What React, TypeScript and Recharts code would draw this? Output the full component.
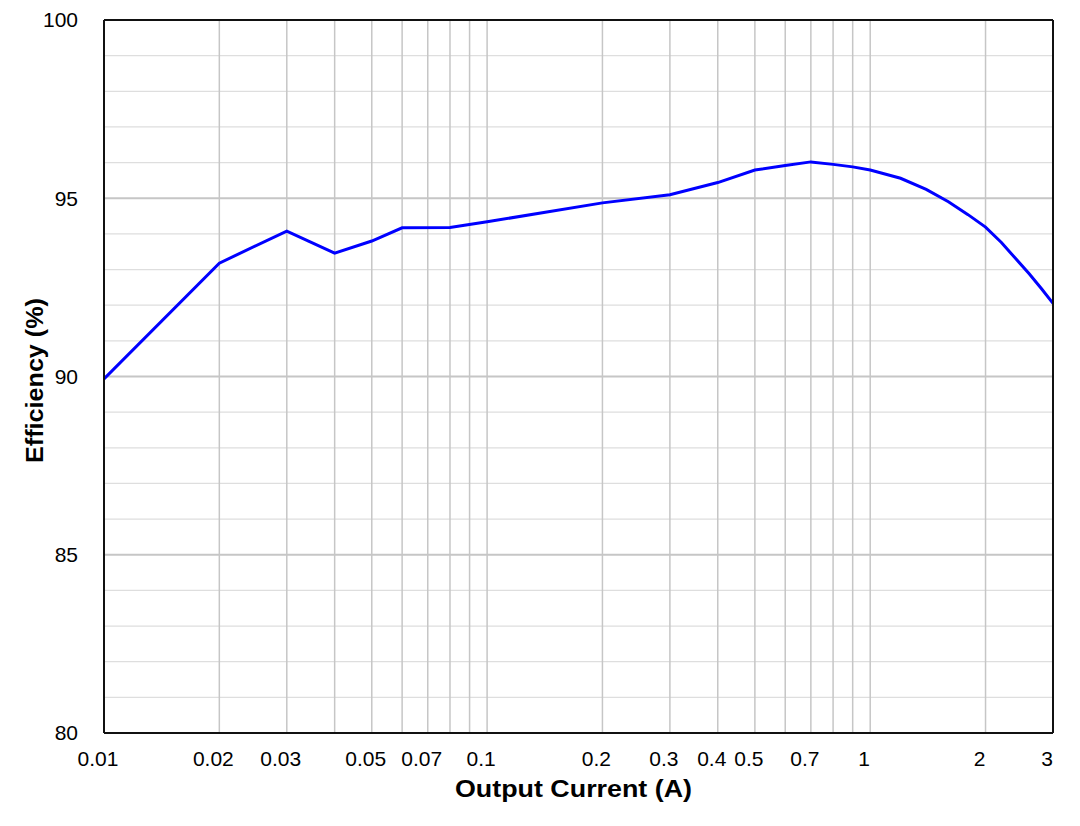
import { CartesianGrid, Line, LineChart, ReferenceLine, XAxis, YAxis } from "recharts";

// efficiency vs output current
const currentA = [
  0.01, 0.02, 0.03, 0.04, 0.05, 0.06, 0.08, 0.1, 0.2, 0.3, 0.4, 0.5, 0.6, 0.7, 0.8, 0.9, 1.0, 1.2, 1.4,
  1.6, 1.8, 2.0, 2.2, 2.4, 2.6, 2.8, 3.0,
];
const efficiencyPct = [
  89.93, 93.18, 94.08, 93.46, 93.8, 94.17, 94.18, 94.34, 94.87, 95.1, 95.44, 95.79, 95.92, 96.02, 95.95,
  95.88, 95.79, 95.56, 95.25, 94.9, 94.54, 94.19, 93.76, 93.3, 92.88, 92.46, 92.05,
];

const xTicks = [0.01, 0.02, 0.03, 0.05, 0.07, 0.1, 0.2, 0.3, 0.4, 0.5, 0.7, 1, 2, 3];
const yTicks = [80, 85, 90, 95, 100];
const xGrid = [
  0.02, 0.03, 0.04, 0.05, 0.06, 0.07, 0.08, 0.09, 0.1, 0.2, 0.3, 0.4, 0.5, 0.6, 0.7, 0.8, 0.9, 1, 2,
];
const yMinor = [81, 82, 83, 84, 86, 87, 88, 89, 91, 92, 93, 94, 96, 97, 98, 99];
const yMajor = [85, 90, 95];

const data = currentA.map((x, i) => ({ x, eff: efficiencyPct[i] }));

const FONT = "'Liberation Sans', Arial, Helvetica, sans-serif";
const tickStyle = { fill: "#000", fontSize: 21, fontFamily: FONT };

export default function App() {
  return (
    <div style={{ position: "absolute", left: 0, top: 0, width: 1080, height: 826, background: "#fff" }}>
      <LineChart width={1080} height={826} data={data} margin={{ top: 20, right: 27, left: 0, bottom: 0 }}>
        <CartesianGrid stroke="none" />
        <XAxis
          dataKey="x"
          type="number"
          scale="log"
          domain={[0.01, 3]}
          ticks={xTicks}
          tickFormatter={(v: number) => String(v)}
          tick={{ ...tickStyle, dx: -6 }}
          tickLine={false}
          axisLine={false}
          tickMargin={12}
          height={93}
          allowDataOverflow
          label={{
            content: ({ viewBox }: any) => (
              <text
                x={viewBox.x + viewBox.width / 2 - 5}
                y={viewBox.y + 64}
                textAnchor="middle"
                fontFamily={FONT}
                fontWeight="bold"
                fontSize={23}
                textLength={237}
                lengthAdjust="spacingAndGlyphs"
                fill="#000"
              >
                Output Current (A)
              </text>
            ),
          }}
        />
        <YAxis
          type="number"
          domain={[80, 100]}
          ticks={yTicks}
          tick={tickStyle}
          tickLine={false}
          axisLine={false}
          tickMargin={20}
          width={104}
          label={{
            content: ({ viewBox }: any) => {
              const cx = 35;
              const cy = viewBox.y + viewBox.height / 2 + 4;
              return (
                <text
                  x={cx}
                  y={cy}
                  transform={`rotate(-90 ${cx} ${cy})`}
                  textAnchor="middle"
                  dominantBaseline="central"
                  fontFamily={FONT}
                  fontWeight="bold"
                  fontSize={23}
                  textLength={165}
                  lengthAdjust="spacingAndGlyphs"
                  fill="#000"
                >
                  Efficiency (%)
                </text>
              );
            },
          }}
        />
        {yMinor.map((v) => (
          <ReferenceLine key={`ym${v}`} y={v} stroke="#dedede" strokeWidth={1.3} />
        ))}
        {xGrid.map((v) => (
          <ReferenceLine key={`xg${v}`} x={v} stroke="#c6c6c6" strokeWidth={1.5} />
        ))}
        {yMajor.map((v) => (
          <ReferenceLine key={`yM${v}`} y={v} stroke="#c6c6c6" strokeWidth={2} />
        ))}
        <Line
          type="linear"
          dataKey="eff"
          stroke="#0000ff"
          strokeWidth={3}
          dot={false}
          activeDot={false}
          isAnimationActive={false}
        />
        <ReferenceLine y={100} stroke="#111" strokeWidth={2} />
        <ReferenceLine y={80} stroke="#111" strokeWidth={2} />
        <ReferenceLine x={0.01} stroke="#111" strokeWidth={2} />
        <ReferenceLine x={3} stroke="#111" strokeWidth={2} />
      </LineChart>
    </div>
  );
}
